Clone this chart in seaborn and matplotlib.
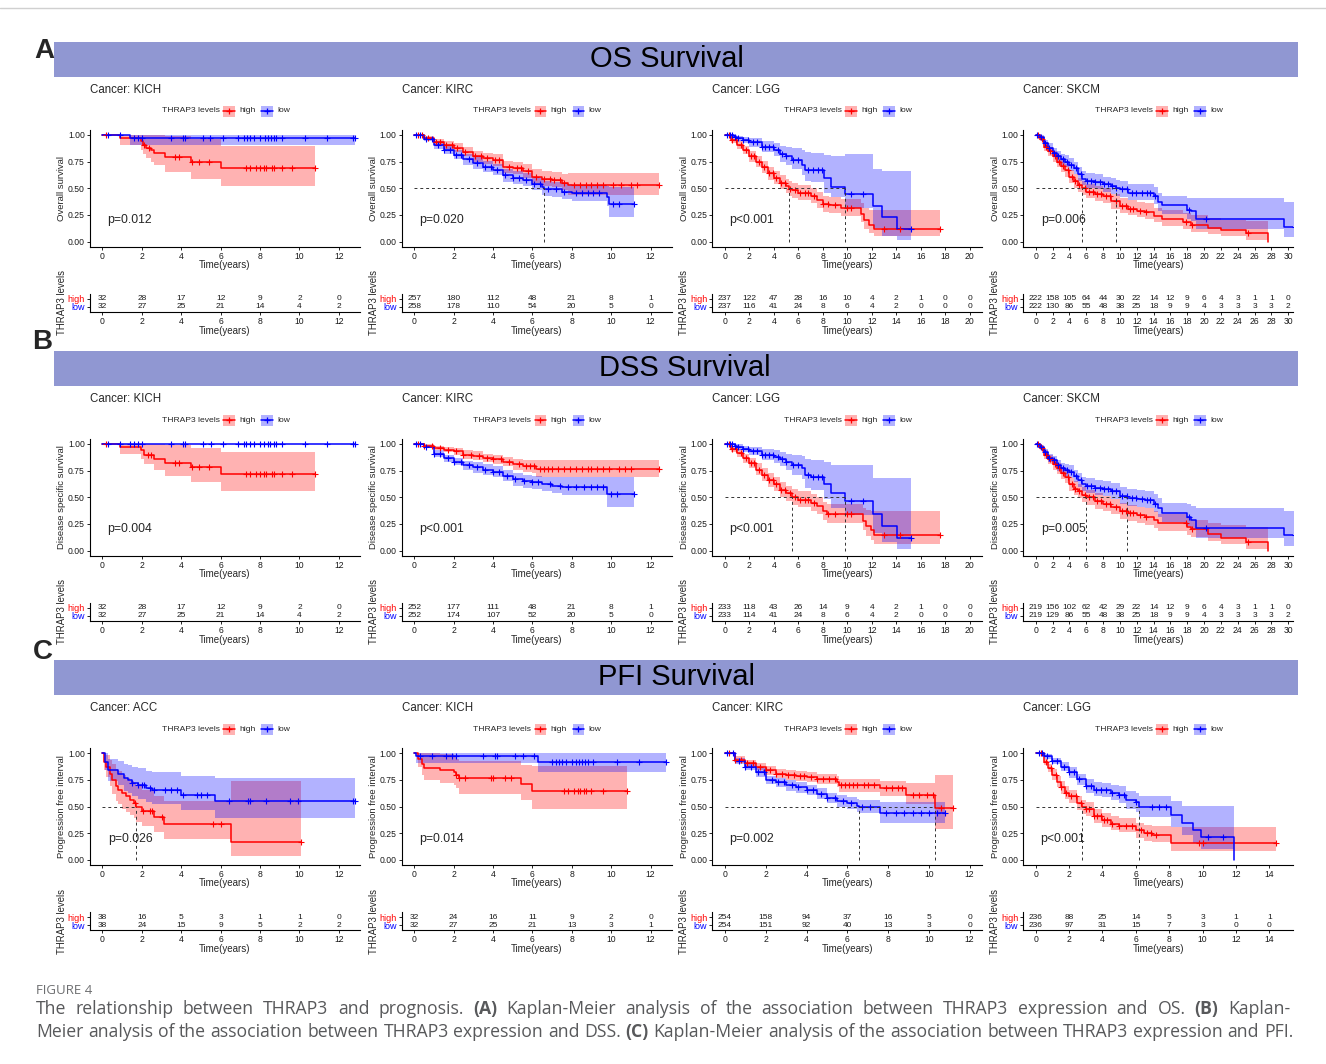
import numpy as np
import pandas as pd
import matplotlib
matplotlib.use('Agg')
import matplotlib.pyplot as plt
from matplotlib.patches import Rectangle
from matplotlib.lines import Line2D
import seaborn as sns

sns.set_theme(style='ticks')
plt.rcParams['font.family'] = ['Liberation Sans', 'DejaVu Sans']

# ---------------- data ----------------
# curves: (time, survival, ci_low, ci_high) at each step, step-post
# ----- A: OS -----
OS_KICH_high = [(0, 1, 1, 1), (0.9, 0.97, 0.91, 1.0), (1.95, 0.94, 0.86, 1.0), (2.05, 0.91, 0.82, 1.0),
                (2.2, 0.88, 0.78, 1.0), (2.45, 0.86, 0.75, 1.0), (2.6, 0.83, 0.72, 1.0), (3.2, 0.79, 0.65, 0.99),
                (4.5, 0.75, 0.59, 0.96), (6.0, 0.69, 0.52, 0.90), (10.8, 0.69, 0.52, 0.90)]
OS_KICH_high_cens = [0.2, 2.1, 2.35, 3.7, 3.9, 4.55, 4.9, 5.4, 7.3, 7.5, 7.8, 8.0, 8.2, 8.3, 8.6, 8.7, 9.1, 9.6, 10.8]
OS_KICH_low = [(0, 1, 1, 1), (1.4, 0.97, 0.91, 1.0), (12.8, 0.97, 0.91, 1.0)]
OS_KICH_low_cens = [0.3, 0.9, 1.6, 1.8, 2.0, 3.5, 4.1, 4.2, 5.1, 5.45, 6.1, 6.9, 7.2, 7.35, 7.5, 7.7, 8.0,
                    8.25, 8.4, 8.55, 8.7, 8.8, 9.1, 10.3, 11.4, 12.7, 12.8]
OS_KICH_risk_high = [32, 28, 17, 12, 9, 2, 0]
OS_KICH_risk_low = [32, 27, 25, 21, 14, 4, 2]

OS_KIRC_high = [(0, 1, 1, 1), (0.5, 0.97, 0.95, 0.99), (1.0, 0.93, 0.90, 0.96), (1.5, 0.91, 0.87, 0.94),
                (2.0, 0.876, 0.84, 0.92), (2.5, 0.84, 0.80, 0.89), (3.0, 0.80, 0.75, 0.85), (3.5, 0.78, 0.73, 0.83),
                (4.0, 0.767, 0.71, 0.82), (4.5, 0.70, 0.64, 0.76), (5.0, 0.69, 0.63, 0.75), (5.5, 0.66, 0.60, 0.73),
                (6.0, 0.61, 0.55, 0.68), (6.5, 0.59, 0.52, 0.66), (7.0, 0.58, 0.51, 0.65), (7.5, 0.55, 0.48, 0.63),
                (7.8, 0.53, 0.44, 0.64), (12.45, 0.53, 0.44, 0.64)]
OS_KIRC_high_cens = [0.2, 0.4, 0.7, 1.1, 1.3, 1.6, 1.9, 2.2, 2.6, 3.1, 3.4, 3.7, 4.1, 4.3, 4.8, 5.2, 5.4, 5.8, 6.2,
                     6.6, 6.9, 7.1, 7.4, 7.6, 8.1, 8.4, 8.7, 9.0, 9.3, 9.6, 10.1, 10.5, 11.0, 11.3, 12.45]
OS_KIRC_low = [(0, 1, 1, 1), (0.5, 0.96, 0.94, 0.98), (1.0, 0.907, 0.87, 0.94), (1.5, 0.86, 0.82, 0.90),
               (2.0, 0.81, 0.77, 0.86), (2.5, 0.77, 0.72, 0.82), (3.0, 0.736, 0.68, 0.79), (3.5, 0.70, 0.65, 0.76),
               (4.0, 0.674, 0.62, 0.73), (4.5, 0.62, 0.56, 0.68), (5.0, 0.60, 0.54, 0.66), (5.5, 0.58, 0.52, 0.64),
               (6.0, 0.54, 0.48, 0.61), (6.5, 0.51, 0.44, 0.58), (6.6, 0.497, 0.43, 0.57), (7.0, 0.49, 0.42, 0.56),
               (7.5, 0.47, 0.40, 0.54), (8.0, 0.456, 0.38, 0.53), (9.8, 0.42, 0.33, 0.52), (9.9, 0.35, 0.23, 0.51),
               (11.15, 0.35, 0.23, 0.51)]
OS_KIRC_low_cens = [0.1, 0.3, 0.6, 0.9, 1.2, 1.5, 1.8, 2.1, 2.4, 2.8, 3.2, 3.6, 3.9, 4.2, 4.6, 5.0, 5.3, 5.7, 6.1,
                    6.4, 6.8, 7.2, 7.6, 8.2, 8.5, 8.8, 9.1, 9.4, 10.1, 10.4, 11.15]
OS_KIRC_risk_high = [257, 180, 112, 48, 21, 8, 1]
OS_KIRC_risk_low = [258, 178, 110, 54, 20, 5, 0]

OS_LGG_high = [(0, 1, 1, 1), (0.5, 0.95, 0.92, 0.98), (1.0, 0.907, 0.87, 0.94), (1.5, 0.86, 0.82, 0.90),
               (2.0, 0.80, 0.75, 0.85), (2.5, 0.75, 0.70, 0.80), (3.0, 0.70, 0.64, 0.76), (3.5, 0.64, 0.58, 0.70),
               (4.0, 0.60, 0.54, 0.66), (4.5, 0.55, 0.49, 0.62), (5.0, 0.52, 0.46, 0.59), (5.2, 0.495, 0.43, 0.57),
               (5.5, 0.48, 0.41, 0.55), (6.0, 0.456, 0.39, 0.53), (7.0, 0.425, 0.36, 0.50), (7.5, 0.39, 0.32, 0.47),
               (8.0, 0.35, 0.28, 0.43), (8.5, 0.34, 0.27, 0.42), (9.5, 0.317, 0.24, 0.40), (11.1, 0.255, 0.18, 0.36),
               (11.4, 0.20, 0.12, 0.32), (11.8, 0.155, 0.08, 0.30), (12.2, 0.115, 0.05, 0.30), (17.6, 0.115, 0.05, 0.30)]
OS_LGG_high_cens = [0.3, 0.6, 0.9, 1.3, 1.7, 2.1, 2.4, 2.8, 3.2, 3.6, 3.9, 4.2, 4.6, 4.9, 5.3, 5.7, 6.1, 6.5, 6.8,
                    7.3, 8.0, 8.4, 9.0, 10.0, 10.3, 13.0, 14.3, 17.6]
OS_LGG_low = [(0, 1, 1, 1), (0.7, 0.985, 0.97, 1.0), (1.0, 0.97, 0.95, 0.99), (1.5, 0.953, 0.92, 0.98),
              (2.0, 0.93, 0.89, 0.97), (3.0, 0.89, 0.84, 0.94), (4.0, 0.86, 0.80, 0.92), (4.5, 0.82, 0.75, 0.90),
              (5.0, 0.80, 0.72, 0.89), (5.5, 0.767, 0.68, 0.88), (6.3, 0.72, 0.62, 0.86), (6.5, 0.674, 0.57, 0.84),
              (7.0, 0.667, 0.56, 0.83), (8.1, 0.596, 0.46, 0.81), (8.7, 0.51, 0.42, 0.80), (9.8, 0.447, 0.32, 0.82),
              (12.1, 0.33, 0.13, 0.68), (12.8, 0.23, 0.05, 0.66), (14.1, 0.12, 0.02, 0.66), (15.2, 0.12, 0.02, 0.66)]
OS_LGG_low_cens = [0.2, 0.4, 0.6, 0.8, 1.1, 1.5, 1.9, 2.3, 2.6, 3.0, 3.3, 3.6, 3.9, 4.3, 4.7, 5.0, 5.6, 6.0, 6.8,
                   7.2, 7.6, 7.9, 10.3, 11.3, 15.2]
OS_LGG_risk_high = [237, 122, 47, 28, 16, 10, 4, 2, 1, 0, 0]
OS_LGG_risk_low = [237, 116, 41, 24, 8, 6, 4, 2, 0, 0, 0]

OS_SKCM_high = [(0, 1, 1, 1), (0.5, 0.96, 0.94, 0.98), (1.0, 0.89, 0.85, 0.93), (1.5, 0.85, 0.80, 0.89),
                (2.0, 0.80, 0.75, 0.85), (2.5, 0.75, 0.70, 0.81), (3.0, 0.71, 0.65, 0.77), (3.5, 0.67, 0.61, 0.73),
                (4.0, 0.61, 0.55, 0.67), (4.5, 0.565, 0.50, 0.63), (5.0, 0.53, 0.47, 0.60), (5.5, 0.50, 0.44, 0.57),
                (6.0, 0.47, 0.41, 0.54), (7.0, 0.45, 0.38, 0.52), (8.0, 0.425, 0.36, 0.50), (9.0, 0.38, 0.31, 0.45),
                (10.0, 0.33, 0.27, 0.41), (11.0, 0.31, 0.25, 0.39), (12.0, 0.29, 0.23, 0.37), (13.0, 0.28, 0.21, 0.36),
                (14.0, 0.24, 0.18, 0.32), (15.0, 0.215, 0.15, 0.30), (17.5, 0.18, 0.12, 0.27), (18.5, 0.155, 0.09, 0.25),
                (20.5, 0.13, 0.07, 0.22), (22.0, 0.105, 0.05, 0.20), (25.0, 0.078, 0.02, 0.19), (27.6, 0.0, 0.0, 0.0)]
OS_SKCM_high_cens = [0.3, 0.7, 1.2, 1.7, 2.3, 2.8, 3.3, 3.8, 4.3, 4.7, 5.2, 5.8, 6.3, 6.8, 7.3, 7.8, 8.3, 8.8,
                     9.5, 10.3, 10.7, 11.2, 11.6, 12.4, 13.1, 17.8, 18.6, 25.2]
OS_SKCM_low = [(0, 1, 1, 1), (0.5, 0.98, 0.96, 1.0), (1.0, 0.92, 0.89, 0.95), (1.5, 0.876, 0.84, 0.92),
               (2.0, 0.835, 0.79, 0.88), (2.5, 0.80, 0.75, 0.85), (3.0, 0.77, 0.72, 0.82), (3.5, 0.75, 0.70, 0.81),
               (4.0, 0.72, 0.66, 0.78), (4.5, 0.69, 0.63, 0.75), (5.0, 0.63, 0.57, 0.70), (5.5, 0.59, 0.53, 0.66),
               (6.0, 0.565, 0.50, 0.64), (7.0, 0.555, 0.49, 0.63), (8.0, 0.54, 0.47, 0.61), (9.0, 0.525, 0.45, 0.60),
               (9.5, 0.50, 0.43, 0.58), (10.0, 0.49, 0.42, 0.57), (11.0, 0.46, 0.39, 0.54), (14.0, 0.425, 0.35, 0.51),
               (14.5, 0.37, 0.29, 0.46), (15.0, 0.34, 0.26, 0.43), (18.0, 0.30, 0.21, 0.41), (18.5, 0.286, 0.19, 0.41),
               (19.0, 0.208, 0.12, 0.41), (29.5, 0.137, 0.04, 0.37), (30.8, 0.137, 0.04, 0.37)]
OS_SKCM_low_cens = [0.2, 0.6, 1.1, 1.6, 2.2, 2.7, 3.2, 3.7, 4.2, 4.8, 5.4, 6.1, 6.6, 7.1, 7.6, 8.1, 8.6, 9.1, 9.6,
                    10.3, 10.8, 11.4, 11.9, 12.6, 13.2, 13.6, 14.2, 18.2, 20.2, 30.8]
OS_SKCM_risk_high = [222, 158, 105, 64, 44, 30, 22, 14, 12, 9, 6, 4, 3, 1, 1, 0]
OS_SKCM_risk_low = [222, 130, 86, 55, 48, 38, 25, 18, 9, 9, 4, 3, 3, 3, 3, 2]

# ----- B: DSS -----
DSS_KICH_high = [(0, 1, 1, 1), (0.9, 0.97, 0.91, 1.0), (1.95, 0.94, 0.86, 1.0), (2.1, 0.90, 0.81, 1.0),
                 (2.6, 0.86, 0.76, 1.0), (3.2, 0.82, 0.70, 0.99), (4.5, 0.78, 0.64, 0.96), (6.0, 0.72, 0.56, 0.92),
                 (10.8, 0.72, 0.56, 0.92)]
DSS_KICH_high_cens = [0.2, 2.3, 2.45, 3.7, 3.9, 4.55, 4.9, 5.4, 7.3, 7.5, 7.8, 8.0, 8.2, 8.3, 8.6, 8.7, 9.1, 9.6, 10.8]
DSS_KICH_low = [(0, 1, 1, 1), (12.8, 1, 1, 1)]
DSS_KICH_low_cens = [0.3, 0.9, 1.4, 1.6, 1.8, 2.0, 3.5, 4.1, 4.2, 5.1, 5.5, 6.1, 6.9, 7.2, 7.3, 7.5, 7.7, 8.0, 8.2,
                     8.4, 8.5, 8.7, 8.8, 9.1, 10.3, 11.4, 12.7, 12.8]
DSS_KICH_risk_high = [32, 28, 17, 12, 9, 2, 0]
DSS_KICH_risk_low = [32, 27, 25, 21, 14, 4, 2]

DSS_KIRC_high = [(0, 1, 1, 1), (0.5, 0.98, 0.96, 1.0), (1.0, 0.96, 0.94, 0.98), (1.5, 0.945, 0.92, 0.97),
                 (2.0, 0.93, 0.90, 0.96), (2.5, 0.90, 0.86, 0.94), (3.0, 0.89, 0.85, 0.93), (3.5, 0.87, 0.83, 0.91),
                 (4.0, 0.857, 0.81, 0.90), (4.5, 0.835, 0.79, 0.88), (5.0, 0.81, 0.76, 0.86), (5.5, 0.795, 0.74, 0.85),
                 (6.0, 0.79, 0.73, 0.85), (6.2, 0.764, 0.69, 0.845), (12.45, 0.764, 0.69, 0.845)]
DSS_KIRC_high_cens = [0.2, 0.5, 0.9, 1.3, 1.7, 2.1, 2.5, 2.9, 3.3, 3.7, 4.0, 4.4, 4.8, 5.3, 5.7, 5.9, 6.1, 6.4, 6.6,
                      6.8, 7.0, 7.3, 7.6, 7.9, 8.2, 8.5, 8.8, 9.0, 9.3, 9.6, 9.9, 10.4, 10.7, 11.0, 12.45]
DSS_KIRC_low = [(0, 1, 1, 1), (0.5, 0.975, 0.96, 0.99), (1.0, 0.91, 0.88, 0.94), (1.5, 0.866, 0.83, 0.90),
                (2.0, 0.835, 0.80, 0.87), (2.5, 0.80, 0.76, 0.84), (3.0, 0.78, 0.73, 0.83), (3.5, 0.76, 0.71, 0.81),
                (4.0, 0.74, 0.69, 0.79), (4.5, 0.70, 0.65, 0.76), (5.0, 0.67, 0.61, 0.73), (5.5, 0.65, 0.59, 0.71),
                (6.0, 0.64, 0.58, 0.70), (6.5, 0.624, 0.56, 0.69), (7.0, 0.61, 0.54, 0.69), (7.5, 0.60, 0.52, 0.69),
                (9.8, 0.534, 0.41, 0.69), (11.15, 0.534, 0.41, 0.69)]
DSS_KIRC_low_cens = [0.1, 0.3, 0.6, 1.0, 1.3, 1.7, 2.0, 2.4, 2.8, 3.2, 3.6, 4.0, 4.3, 4.7, 5.1, 5.6, 6.0, 6.3, 6.9,
                     7.4, 7.8, 8.2, 8.6, 9.0, 9.3, 9.6, 10.0, 10.3, 11.15]
DSS_KIRC_risk_high = [252, 177, 111, 48, 21, 8, 1]
DSS_KIRC_risk_low = [252, 174, 107, 52, 20, 5, 0]

DSS_LGG_high = [(0, 1, 1, 1), (0.5, 0.95, 0.92, 0.98), (1.0, 0.913, 0.88, 0.95), (1.5, 0.866, 0.82, 0.91),
                (2.0, 0.82, 0.77, 0.87), (2.5, 0.76, 0.71, 0.82), (3.0, 0.71, 0.65, 0.77), (3.5, 0.665, 0.60, 0.73),
                (4.0, 0.62, 0.56, 0.69), (4.5, 0.57, 0.50, 0.64), (5.0, 0.54, 0.47, 0.61), (5.5, 0.50, 0.43, 0.58),
                (6.0, 0.478, 0.41, 0.56), (7.0, 0.447, 0.37, 0.53), (7.5, 0.416, 0.34, 0.50), (8.0, 0.37, 0.29, 0.46),
                (8.3, 0.34, 0.26, 0.44), (11.3, 0.276, 0.19, 0.40), (11.5, 0.23, 0.14, 0.38), (11.9, 0.19, 0.10, 0.37),
                (12.2, 0.146, 0.06, 0.37), (17.6, 0.146, 0.06, 0.37)]
DSS_LGG_high_cens = [0.3, 0.6, 0.9, 1.3, 1.7, 2.1, 2.4, 2.8, 3.2, 3.6, 3.9, 4.2, 4.6, 4.9, 5.3, 5.7, 6.1, 6.5,
                     6.8, 7.3, 8.4, 9.0, 10.0, 10.3, 13.0, 14.3, 17.6]
DSS_LGG_low = [(0, 1, 1, 1), (0.8, 0.985, 0.97, 1.0), (1.0, 0.975, 0.95, 1.0), (1.5, 0.95, 0.92, 0.98),
               (2.0, 0.935, 0.90, 0.97), (3.0, 0.90, 0.85, 0.95), (4.0, 0.88, 0.82, 0.94), (4.5, 0.857, 0.79, 0.92),
               (5.0, 0.835, 0.76, 0.91), (5.5, 0.80, 0.71, 0.90), (6.3, 0.773, 0.67, 0.89), (6.5, 0.71, 0.59, 0.86),
               (7.0, 0.69, 0.57, 0.85), (8.1, 0.62, 0.48, 0.83), (8.7, 0.54, 0.40, 0.80), (9.8, 0.47, 0.33, 0.80),
               (12.1, 0.34, 0.17, 0.68), (12.8, 0.23, 0.08, 0.68), (14.1, 0.12, 0.02, 0.68), (15.2, 0.12, 0.02, 0.68)]
DSS_LGG_low_cens = [0.2, 0.4, 0.6, 0.8, 1.1, 1.5, 1.9, 2.3, 2.6, 3.0, 3.3, 3.6, 3.9, 4.3, 4.7, 5.0, 5.6, 6.0,
                    6.8, 7.2, 7.6, 7.9, 10.3, 11.3, 15.2]
DSS_LGG_risk_high = [233, 118, 43, 26, 14, 9, 4, 2, 1, 0, 0]
DSS_LGG_risk_low = [233, 114, 41, 24, 8, 6, 4, 2, 0, 0, 0]

DSS_SKCM_high = [(0, 1, 1, 1), (0.5, 0.96, 0.94, 0.98), (1.0, 0.90, 0.86, 0.94), (1.5, 0.857, 0.81, 0.90),
                 (2.0, 0.81, 0.76, 0.86), (2.5, 0.77, 0.72, 0.82), (3.0, 0.727, 0.67, 0.78), (3.5, 0.69, 0.63, 0.75),
                 (4.0, 0.62, 0.56, 0.68), (4.5, 0.58, 0.52, 0.65), (5.0, 0.556, 0.49, 0.62), (5.5, 0.525, 0.46, 0.60),
                 (6.0, 0.50, 0.43, 0.57), (7.0, 0.463, 0.39, 0.54), (8.0, 0.44, 0.37, 0.51), (9.0, 0.41, 0.34, 0.48),
                 (10.0, 0.37, 0.30, 0.45), (11.0, 0.354, 0.28, 0.43), (12.0, 0.33, 0.26, 0.41), (13.0, 0.317, 0.24, 0.40),
                 (14.0, 0.286, 0.21, 0.37), (14.5, 0.255, 0.18, 0.34), (18.0, 0.224, 0.15, 0.31), (18.5, 0.205, 0.13, 0.29),
                 (20.5, 0.16, 0.09, 0.26), (22.0, 0.12, 0.06, 0.24), (25.0, 0.08, 0.02, 0.22), (27.6, 0.0, 0.0, 0.0)]
DSS_SKCM_high_cens = [0.3, 0.7, 1.2, 1.7, 2.3, 2.8, 3.3, 3.8, 4.3, 4.7, 5.2, 5.8, 6.3, 6.8, 7.3, 7.8, 8.3, 8.8,
                      9.5, 10.3, 10.7, 11.2, 11.6, 12.4, 13.1, 17.8, 18.6, 25.2]
DSS_SKCM_low = [(0, 1, 1, 1), (0.5, 0.97, 0.95, 0.99), (1.0, 0.92, 0.89, 0.95), (1.5, 0.87, 0.83, 0.91),
                (2.0, 0.845, 0.80, 0.89), (2.5, 0.80, 0.75, 0.85), (3.0, 0.77, 0.72, 0.82), (3.5, 0.757, 0.70, 0.81),
                (4.0, 0.74, 0.68, 0.80), (4.5, 0.70, 0.64, 0.76), (5.0, 0.665, 0.60, 0.73), (5.5, 0.625, 0.56, 0.69),
                (6.0, 0.61, 0.54, 0.68), (7.0, 0.59, 0.52, 0.66), (8.0, 0.578, 0.51, 0.65), (9.0, 0.556, 0.48, 0.63),
                (10.0, 0.516, 0.44, 0.60), (10.9, 0.494, 0.42, 0.58), (12.0, 0.484, 0.41, 0.57), (13.0, 0.478, 0.40, 0.56),
                (14.0, 0.44, 0.36, 0.53), (14.5, 0.40, 0.32, 0.49), (15.0, 0.354, 0.27, 0.45), (18.0, 0.32, 0.23, 0.44),
                (18.5, 0.29, 0.20, 0.42), (19.0, 0.214, 0.12, 0.40), (29.5, 0.146, 0.04, 0.37), (30.8, 0.146, 0.04, 0.37)]
DSS_SKCM_low_cens = [0.2, 0.6, 1.1, 1.6, 2.2, 2.7, 3.2, 3.7, 4.2, 4.8, 5.4, 6.1, 6.6, 7.1, 7.6, 8.1, 8.6, 9.1,
                     9.6, 10.3, 10.8, 11.4, 11.9, 12.6, 13.2, 13.6, 14.2, 18.2, 20.2, 30.8]
DSS_SKCM_risk_high = [219, 156, 102, 62, 42, 29, 22, 14, 12, 9, 6, 4, 3, 1, 1, 0]
DSS_SKCM_risk_low = [219, 129, 86, 55, 48, 38, 25, 18, 9, 9, 4, 3, 3, 3, 3, 2]

# ----- C: PFI -----
PFI_ACC_high = [(0, 1, 1, 1), (0.1, 0.92, 0.84, 1.0), (0.2, 0.875, 0.78, 0.98), (0.4, 0.81, 0.69, 0.94),
                (0.5, 0.75, 0.62, 0.90), (0.7, 0.69, 0.55, 0.85), (0.8, 0.66, 0.52, 0.83), (1.0, 0.626, 0.48, 0.80),
                (1.2, 0.595, 0.45, 0.77), (1.4, 0.56, 0.42, 0.74), (1.6, 0.53, 0.39, 0.72), (1.7, 0.495, 0.36, 0.69),
                (2.0, 0.46, 0.32, 0.66), (2.6, 0.40, 0.26, 0.60), (3.1, 0.34, 0.20, 0.55), (6.5, 0.17, 0.04, 0.74),
                (10.1, 0.17, 0.04, 0.74)]
PFI_ACC_high_cens = [1.64, 2.06, 2.43, 2.5, 3.04, 5.6, 6.0, 10.1]
PFI_ACC_low = [(0, 1, 1, 1), (0.15, 0.92, 0.84, 1.0), (0.3, 0.84, 0.74, 0.95), (0.8, 0.81, 0.70, 0.93),
               (1.1, 0.77, 0.65, 0.90), (1.3, 0.75, 0.63, 0.89), (1.5, 0.72, 0.60, 0.87), (1.8, 0.70, 0.57, 0.86),
               (2.2, 0.67, 0.54, 0.83), (2.5, 0.66, 0.52, 0.82), (4.0, 0.61, 0.47, 0.79), (5.7, 0.55, 0.39, 0.77),
               (12.8, 0.55, 0.39, 0.77)]
PFI_ACC_low_cens = [1.5, 1.8, 2.0, 2.1, 2.4, 2.6, 3.2, 3.5, 3.8, 4.1, 4.8, 5.0, 5.3, 6.4, 7.4, 7.5, 8.3, 9.5, 9.9,
                    12.7, 12.8]
PFI_ACC_risk_high = [38, 16, 5, 3, 1, 1, 0]
PFI_ACC_risk_low = [38, 24, 15, 9, 5, 2, 2]

PFI_KICH_high = [(0, 1, 1, 1), (0.2, 0.944, 0.87, 1.0), (0.4, 0.90, 0.80, 1.0), (0.5, 0.866, 0.75, 1.0),
                 (1.3, 0.844, 0.72, 0.99), (2.0, 0.82, 0.70, 0.97), (2.1, 0.80, 0.67, 0.95), (2.3, 0.77, 0.62, 0.93),
                 (5.4, 0.71, 0.56, 0.89), (6.0, 0.65, 0.48, 0.88), (10.8, 0.65, 0.48, 0.88)]
PFI_KICH_high_cens = [2.12, 2.3, 2.6, 3.9, 4.0, 4.6, 4.9, 7.6, 7.8, 8.1, 8.3, 8.4, 8.6, 8.7, 9.0, 9.6, 10.8]
PFI_KICH_low = [(0, 1, 1, 1), (0.1, 0.97, 0.91, 1.0), (6.3, 0.92, 0.82, 1.0), (12.8, 0.92, 0.82, 1.0)]
PFI_KICH_low_cens = [0.3, 0.9, 1.6, 1.9, 2.1, 3.5, 4.1, 4.2, 5.1, 5.5, 6.1, 7.0, 7.2, 7.35, 7.5, 7.7, 8.0, 8.2,
                     8.35, 8.5, 8.65, 8.8, 9.1, 10.3, 11.4, 12.8]
PFI_KICH_risk_high = [32, 24, 16, 11, 9, 2, 0]
PFI_KICH_risk_low = [32, 27, 25, 21, 13, 3, 1]

PFI_KIRC_high = [(0, 1, 1, 1), (0.5, 0.94, 0.91, 0.97), (1.0, 0.906, 0.87, 0.94), (1.5, 0.875, 0.84, 0.91),
                 (2.0, 0.844, 0.80, 0.88), (2.5, 0.81, 0.77, 0.85), (3.0, 0.80, 0.75, 0.84), (3.5, 0.79, 0.74, 0.83),
                 (4.0, 0.776, 0.73, 0.82), (4.5, 0.757, 0.71, 0.81), (5.5, 0.735, 0.68, 0.79), (5.6, 0.70, 0.64, 0.76),
                 (7.6, 0.67, 0.60, 0.74), (8.9, 0.61, 0.52, 0.72), (10.3, 0.486, 0.29, 0.80), (11.2, 0.486, 0.29, 0.80)]
PFI_KIRC_high_cens = [0.2, 0.5, 0.8, 1.1, 1.4, 1.7, 2.0, 2.2, 2.5, 2.8, 3.1, 3.4, 3.7, 3.9, 4.2, 4.5, 4.8, 5.1,
                      5.4, 5.7, 5.9, 6.1, 6.3, 6.5, 6.8, 7.0, 7.3, 7.9, 8.2, 8.5, 8.7, 9.2, 9.5, 9.9, 10.2, 10.6, 11.2]
PFI_KIRC_low = [(0, 1, 1, 1), (0.5, 0.93, 0.90, 0.96), (1.0, 0.875, 0.84, 0.91), (1.5, 0.82, 0.78, 0.86),
                (2.0, 0.75, 0.71, 0.79), (2.5, 0.726, 0.68, 0.77), (3.0, 0.70, 0.65, 0.75), (3.5, 0.68, 0.63, 0.73),
                (4.0, 0.657, 0.61, 0.70), (4.5, 0.62, 0.57, 0.67), (5.0, 0.58, 0.53, 0.63), (5.5, 0.557, 0.50, 0.61),
                (6.0, 0.533, 0.48, 0.59), (6.5, 0.508, 0.45, 0.57), (6.55, 0.495, 0.44, 0.56), (7.6, 0.44, 0.35, 0.54),
                (10.8, 0.44, 0.35, 0.54)]
PFI_KIRC_low_cens = [0.1, 0.4, 0.7, 1.0, 1.3, 1.6, 1.9, 2.3, 2.6, 2.9, 3.3, 3.6, 4.0, 4.3, 4.7, 5.0, 5.4, 5.8,
                     6.2, 6.7, 7.1, 7.9, 8.4, 8.8, 9.2, 9.6, 10.0, 10.4, 10.8]
PFI_KIRC_risk_high = [254, 158, 94, 37, 16, 5, 0]
PFI_KIRC_risk_low = [254, 151, 92, 40, 13, 3, 0]

PFI_LGG_high = [(0, 1, 1, 1), (0.5, 0.92, 0.89, 0.95), (0.75, 0.86, 0.82, 0.90), (1.0, 0.80, 0.75, 0.85),
                (1.25, 0.735, 0.68, 0.79), (1.5, 0.68, 0.62, 0.74), (1.75, 0.63, 0.57, 0.69), (2.0, 0.595, 0.53, 0.66),
                (2.5, 0.53, 0.47, 0.60), (2.75, 0.495, 0.43, 0.56), (3.0, 0.477, 0.41, 0.54), (3.5, 0.414, 0.35, 0.48),
                (4.0, 0.377, 0.31, 0.44), (4.5, 0.34, 0.28, 0.41), (5.0, 0.32, 0.26, 0.39), (6.0, 0.28, 0.21, 0.35),
                (6.5, 0.25, 0.18, 0.33), (7.0, 0.237, 0.17, 0.32), (8.1, 0.16, 0.08, 0.31), (14.4, 0.16, 0.08, 0.31)]
PFI_LGG_high_cens = [0.3, 0.6, 0.9, 1.2, 1.5, 1.8, 2.1, 2.4, 2.7, 3.0, 3.2, 3.5, 3.7, 3.9, 4.1, 4.3, 4.6, 5.0,
                     5.4, 5.8, 6.3, 6.7, 6.9, 7.2, 9.8, 10.0, 14.4]
PFI_LGG_low = [(0, 1, 1, 1), (0.5, 0.97, 0.95, 0.99), (1.0, 0.93, 0.90, 0.96), (1.5, 0.875, 0.83, 0.92),
               (2.0, 0.82, 0.77, 0.87), (2.5, 0.757, 0.70, 0.81), (3.0, 0.695, 0.63, 0.76), (3.5, 0.66, 0.60, 0.73),
               (4.0, 0.657, 0.59, 0.72), (4.5, 0.63, 0.56, 0.70), (5.0, 0.61, 0.53, 0.69), (5.4, 0.564, 0.48, 0.65),
               (6.0, 0.54, 0.45, 0.63), (6.2, 0.495, 0.40, 0.60), (8.1, 0.424, 0.31, 0.55), (8.8, 0.35, 0.23, 0.51),
               (9.4, 0.28, 0.16, 0.51), (9.9, 0.215, 0.10, 0.51), (11.9, 0.0, 0.0, 0.0)]
PFI_LGG_low_cens = [0.2, 0.4, 0.7, 1.0, 1.3, 1.7, 2.0, 2.3, 2.6, 3.0, 3.3, 3.6, 3.9, 4.2, 4.6, 5.0, 5.3, 6.0,
                    7.0, 7.4, 7.8, 10.3, 11.2]
PFI_LGG_risk_high = [236, 88, 25, 14, 5, 3, 1, 1]
PFI_LGG_risk_low = [236, 97, 31, 15, 7, 3, 0, 0]

CAPTION_LINE1 = [('The relationship between THRAP3 and prognosis.', 'normal'), ('(A)', 'bold'),
                 ('Kaplan-Meier analysis of the association between THRAP3 expression and OS.', 'normal'),
                 ('(B)', 'bold'), ('Kaplan-', 'normal')]
CAPTION_LINE2 = [('Meier analysis of the association between THRAP3 expression and DSS.', 'normal'), ('(C)', 'bold'),
                 ('Kaplan-Meier analysis of the association between THRAP3 expression and PFI.', 'normal')]

# ---------------- layout ----------------
W, H = 1326, 1064
COL_LEFT = [90, 401.7, 712.3, 1023.3]
AX_W = 270
ROW_DY = [0, 309, 618.3]
KM_TOP, KM_BOT = 129.6, 247.0
RT_TOP, RT_BOT = 294.0, 311.7
RED, BLUE = '#FF0000', '#0000FF'
BANNER = '#9097D2'
X12 = (-0.63, 13.07)
X20 = (-1.04, 21.04)
X30 = (-1.47, 30.6)

rows = [
    dict(letter='A', letter_xy=(44, 51), title='OS Survival', title_x=667, ylabel='Overall survival',
         panels=[('KICH', OS_KICH_high, OS_KICH_high_cens, OS_KICH_low, OS_KICH_low_cens, OS_KICH_risk_high, OS_KICH_risk_low, 'p=0.012', 12, X12, 0.25),
                 ('KIRC', OS_KIRC_high, OS_KIRC_high_cens, OS_KIRC_low, OS_KIRC_low_cens, OS_KIRC_risk_high, OS_KIRC_risk_low, 'p=0.020', 12, X12, 0.27),
                 ('LGG', OS_LGG_high, OS_LGG_high_cens, OS_LGG_low, OS_LGG_low_cens, OS_LGG_risk_high, OS_LGG_risk_low, 'p<0.001', 20, X20, 0.35),
                 ('SKCM', OS_SKCM_high, OS_SKCM_high_cens, OS_SKCM_low, OS_SKCM_low_cens, OS_SKCM_risk_high, OS_SKCM_risk_low, 'p=0.006', 30, X30, 0.6)]),
    dict(letter='B', letter_xy=(42, 342), title='DSS Survival', title_x=685, ylabel='Disease specific survival',
         panels=[('KICH', DSS_KICH_high, DSS_KICH_high_cens, DSS_KICH_low, DSS_KICH_low_cens, DSS_KICH_risk_high, DSS_KICH_risk_low, 'p=0.004', 12, X12, 0.25),
                 ('KIRC', DSS_KIRC_high, DSS_KIRC_high_cens, DSS_KIRC_low, DSS_KIRC_low_cens, DSS_KIRC_risk_high, DSS_KIRC_risk_low, 'p<0.001', 12, X12, 0.27),
                 ('LGG', DSS_LGG_high, DSS_LGG_high_cens, DSS_LGG_low, DSS_LGG_low_cens, DSS_LGG_risk_high, DSS_LGG_risk_low, 'p<0.001', 20, X20, 0.35),
                 ('SKCM', DSS_SKCM_high, DSS_SKCM_high_cens, DSS_SKCM_low, DSS_SKCM_low_cens, DSS_SKCM_risk_high, DSS_SKCM_risk_low, 'p=0.005', 30, X30, 0.6)]),
    dict(letter='C', letter_xy=(43, 652), title='PFI Survival', title_x=676, ylabel='Progression free interval',
         panels=[('ACC', PFI_ACC_high, PFI_ACC_high_cens, PFI_ACC_low, PFI_ACC_low_cens, PFI_ACC_risk_high, PFI_ACC_risk_low, 'p=0.026', 12, X12, 0.29),
                 ('KICH', PFI_KICH_high, PFI_KICH_high_cens, PFI_KICH_low, PFI_KICH_low_cens, PFI_KICH_risk_high, PFI_KICH_risk_low, 'p=0.014', 12, X12, 0.27),
                 ('KIRC', PFI_KIRC_high, PFI_KIRC_high_cens, PFI_KIRC_low, PFI_KIRC_low_cens, PFI_KIRC_risk_high, PFI_KIRC_risk_low, 'p=0.002', 12, (-0.62, 12.62), 0.22),
                 ('LGG', PFI_LGG_high, PFI_LGG_high_cens, PFI_LGG_low, PFI_LGG_low_cens, PFI_LGG_risk_high, PFI_LGG_risk_low, 'p<0.001', 14, (-0.74, 15.44), 0.3)]),
]


def fx(px):
    return px / W


def fy(py):
    return 1 - py / H


def step_value(curve, times):
    arr = np.array(curve, dtype=float)
    idx = np.searchsorted(arr[:, 0], np.asarray(times, dtype=float), side='right') - 1
    return arr[np.clip(idx, 0, len(arr) - 1), 1]


def median_time(curve):
    arr = np.array(curve, dtype=float)
    below = arr[arr[:, 1] <= 0.5]
    return below[0, 0] if len(below) else None


def style_axis(ax):
    sns.despine(ax=ax)
    for s in ['left', 'bottom']:
        ax.spines[s].set_linewidth(0.8)
        ax.spines[s].set_color('black')
    ax.tick_params(direction='out', length=2.5, width=0.6, pad=1.2, labelsize=6.2, colors='black',
                   labelcolor='#1a1a1a')


fig = plt.figure(figsize=(W / 100, H / 100), dpi=100)
fig.patch.set_facecolor('white')
fig.add_artist(Line2D([0, 1], [fy(8), fy(8)], color='#d0d0d0', lw=1))

for r, row in enumerate(rows):
    dy = ROW_DY[r]
    # banner
    fig.add_artist(Rectangle((fx(54), fy(76.7 + dy)), fx(1298) - fx(54), 35 / H,
                             transform=fig.transFigure, fc=BANNER, ec='none'))
    fig.text(fx(row['title_x']), fy(59 + dy), row['title'], ha='center', va='center', fontsize=21, color='black')
    fig.text(fx(row['letter_xy'][0]), fy(row['letter_xy'][1]), row['letter'], ha='center', va='center',
             fontsize=20, fontweight='bold')

    for c, (cancer, high, high_c, low, low_c, rk_high, rk_low, ptxt, tmax, xlim, p_x) in enumerate(row['panels']):
        L = COL_LEFT[c]
        top, bot = KM_TOP + dy, KM_BOT + dy
        ax = fig.add_axes([fx(L), fy(bot), AX_W / W, (bot - top) / H])
        h_px = bot - top

        # confidence bands
        for curve, col in [(high, RED), (low, BLUE)]:
            arr = np.array(curve, dtype=float)
            ax.fill_between(arr[:, 0], arr[:, 2], arr[:, 3], step='post', color=col, alpha=0.3, lw=0)

        # survival curves
        df = pd.concat([pd.DataFrame({'time': np.array(cv)[:, 0], 'surv': np.array(cv)[:, 1], 'level': lv})
                        for cv, lv in [(high, 'high'), (low, 'low')]], ignore_index=True)
        sns.lineplot(data=df, x='time', y='surv', hue='level', palette={'high': RED, 'low': BLUE},
                     drawstyle='steps-post', sort=False, estimator=None, legend=False, lw=1.1, ax=ax)

        # censor marks
        for curve, cens, col in [(high, high_c, RED), (low, low_c, BLUE)]:
            sns.scatterplot(x=cens, y=step_value(curve, cens), marker='+', color=col, s=16, linewidth=0.8,
                            legend=False, ax=ax, zorder=4)

        # median lines
        meds = [m for m in (median_time(high), median_time(low)) if m is not None]
        if meds:
            ax.plot([0, max(meds)], [0.5, 0.5], ls=(0, (3, 3)), color='#333333', lw=0.7, zorder=5)
            for m in meds:
                ax.plot([m, m], [0, 0.5], ls=(0, (3, 3)), color='#333333', lw=0.7, zorder=5)

        ax.text(p_x, 0.2, ptxt, ha='left', va='center', fontsize=8.8)

        ticks = np.arange(0, tmax + 1, 2)
        ax.set_xlim(*xlim)
        ax.set_ylim(-0.05, 1.05)
        ax.set_xticks(ticks)
        ax.set_yticks([0, 0.25, 0.5, 0.75, 1.0])
        ax.set_yticklabels(['0.00', '0.25', '0.50', '0.75', '1.00'])
        ax.set_xlabel('')
        ax.set_ylabel('')
        style_axis(ax)
        ax.text(-28 / AX_W, 0.5, row['ylabel'], rotation=90, transform=ax.transAxes, ha='center', va='center',
                fontsize=6.8)
        ax.text(0.5, -18 / h_px, 'Time(years)', transform=ax.transAxes, ha='center', va='center', fontsize=7)
        ax.text(0, 1 + 39.6 / h_px, f'Cancer: {cancer}', transform=ax.transAxes, ha='left', va='center',
                fontsize=8.3)

        # legend
        ly = top - 18.6
        fig.text(fx(L + 71.7), fy(ly), 'THRAP3 levels', ha='left', va='center', fontsize=6.1)
        for k0, col, lab in [(133, RED, 'high'), (171, BLUE, 'low')]:
            fig.add_artist(Rectangle((fx(L + k0), fy(ly + 5.5)), 11.5 / W, 11 / H, transform=fig.transFigure,
                                     fc=col, alpha=0.3, ec='none'))
            fig.add_artist(Line2D([fx(L + k0), fx(L + k0 + 11.5)], [fy(ly), fy(ly)], color=col, lw=1.1))
            fig.add_artist(Line2D([fx(L + k0 + 5.75)], [fy(ly)], color=col, marker='+', ms=4.5, mew=0.9))
            fig.text(fx(L + k0 + 16), fy(ly), lab, ha='left', va='center', fontsize=6.1)

        # risk table
        rtop, rbot = RT_TOP + dy, RT_BOT + dy
        rax = fig.add_axes([fx(L), fy(rbot), AX_W / W, (rbot - rtop) / H])
        rax.set_xlim(*xlim)
        rax.set_ylim(0.4, 2.6)
        for k, tk in enumerate(ticks):
            rax.text(tk, 2, str(rk_high[k]), ha='center', va='center', fontsize=6, color='#1a1a1a')
            rax.text(tk, 1, str(rk_low[k]), ha='center', va='center', fontsize=6, color='#1a1a1a')
        rax.set_xticks(ticks)
        rax.set_yticks([1, 2])
        rax.set_yticklabels(['low', 'high'])
        style_axis(rax)
        rax.tick_params(axis='y', labelsize=6.5)
        for lbl, col in zip(rax.get_yticklabels(), [BLUE, RED]):
            lbl.set_color(col)
        rh = rbot - rtop
        rax.text(-28 / AX_W, 0.5, 'THRAP3 levels', rotation=90, transform=rax.transAxes, ha='center',
                 va='center', fontsize=6.9)
        rax.text(0.5, -19 / rh, 'Time(years)', transform=rax.transAxes, ha='center', va='center', fontsize=7)

# ---------------- caption (justified first line) ----------------
cap_font = ['Open Sans', 'DejaVu Sans']
cap_col = '#58595b'
fig.text(fx(36), fy(990), 'FIGURE 4', ha='left', va='center', fontsize=9.5, color='#6d6e70', family=cap_font)
renderer = fig.canvas.get_renderer()


def words_of(runs):
    return [(w, wgt) for s, wgt in runs for w in s.split(' ')]


def text_width(s, wgt, size):
    t = fig.text(0, 0, s, fontsize=size, fontweight=wgt, family=cap_font)
    w = t.get_window_extent(renderer).width
    t.remove()
    return w


def natural_width(words, size):
    gap = text_width('a a', 'normal', size) - text_width('aa', 'normal', size)
    return sum(text_width(w, g, size) for w, g in words) + gap * (len(words) - 1), gap


def draw_words(words, y, size, right=None):
    nat, gap = natural_width(words, size)
    if right is not None:
        gap += (right - 36 - nat) / (len(words) - 1)
    x = 36.0
    for w, g in words:
        fig.text(fx(x), fy(y), w, ha='left', va='center', fontsize=size, fontweight=g, color=cap_col,
                 family=cap_font)
        x += text_width(w, g, size) + gap


w1, w2 = words_of(CAPTION_LINE1), words_of(CAPTION_LINE2)
cap_size = 12.0
for _ in range(3):
    nat2, _g = natural_width(w2, cap_size)
    cap_size = cap_size * (1293 - 36) / nat2
draw_words(w1, 1009, cap_size, right=1290)
draw_words(w2, 1032, cap_size, right=1293)

fig.savefig('out.png', dpi=100, facecolor='white')
